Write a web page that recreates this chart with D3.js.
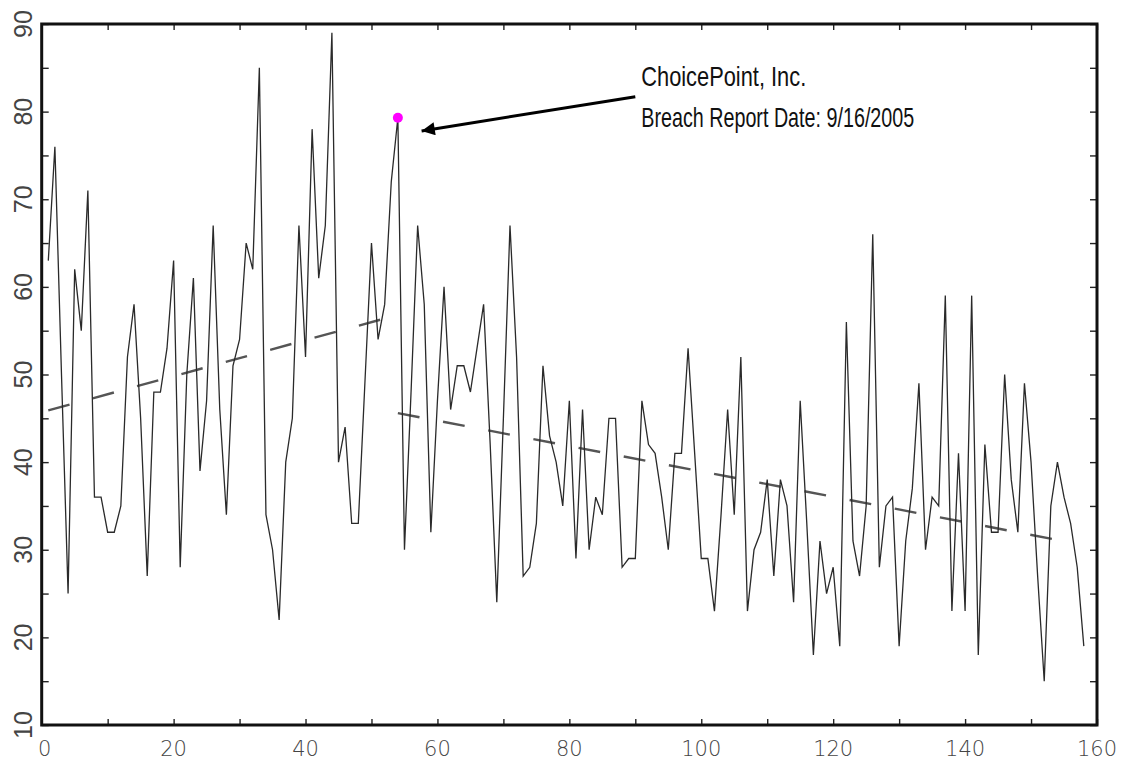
<!DOCTYPE html>
<html>
<head>
<meta charset="utf-8">
<script src="https://cdn.jsdelivr.net/npm/d3@7"></script>
<style>
  body { margin: 0; background: #fff; }
  svg { display: block; }
</style>
</head>
<body>
<script>
// values, one per day (1..158)
var days = d3.range(1, 159);
var scores = [
  63, 76, 50, 25, 62, 55, 71, 36, 36, 32,
  32, 35, 52, 58, 45, 27, 48, 48, 53, 63,
  28, 50, 61, 39, 47, 67, 46, 34, 51, 54,
  65, 62, 85, 34, 30, 22, 40, 45, 67, 52,
  78, 61, 67, 89, 40, 44, 33, 33, 49, 65,
  54, 58, 72, 79.3, 30, 48, 67, 58, 32, 47,
  60, 46, 51, 51, 48, 53, 58, 42, 24, 45,
  67, 52, 27, 28, 33, 51, 43, 40, 35, 47,
  29, 46, 30, 36, 34, 45, 45, 28, 29, 29,
  47, 42, 41, 36, 30, 41, 41, 53, 41, 29,
  29, 23, 34, 46, 34, 52, 23, 30, 32, 38,
  27, 38, 35, 24, 47, 33, 18, 31, 25, 28,
  19, 56, 31, 27, 35, 66, 28, 35, 36, 19,
  31, 37, 49, 30, 36, 35, 59, 23, 41, 23,
  59, 18, 42, 32, 32, 50, 38, 32, 49, 40,
  27, 15, 35, 40, 36, 33, 28, 19
];

// dashed trend lines before and after the breach
var trendBefore = [[1, 45.9], [54, 56.8]];
var trendAfter = [[54, 45.6], [155.5, 30.9]];

var breachDay = 54;
var breachScore = 79.3;
var noteLines = ["ChoicePoint, Inc.", "Breach Report Date: 9/16/2005"];

var xTickLabels = [0, 20, 40, 60, 80, 100, 120, 140, 160];
var yTickLabels = [10, 20, 30, 40, 50, 60, 70, 80, 90];

var w = 1122, h = 761;
var margin = {top: 24, right: 25, bottom: 36, left: 41.7};

var svg = d3.select("body").append("svg")
    .attr("width", w)
    .attr("height", h);

var xScale = d3.scaleLinear()
    .domain([0, 160])
    .range([margin.left, w - margin.right]);

var yScale = d3.scaleLinear()
    .domain([10, 90])
    .range([h - margin.bottom, margin.top]);

// inward ticks on all four sides
function cleanAxis(g) {
  g.select(".domain").remove();
  g.selectAll(".tick line").attr("stroke", "#222").attr("stroke-width", 1.4);
  g.selectAll(".tick text").remove();
}

svg.append("g")
    .attr("transform", "translate(0," + yScale(10) + ")")
    .call(d3.axisBottom(xScale).tickValues(d3.range(0, 161, 10)).tickSize(-6))
    .call(cleanAxis);

svg.append("g")
    .attr("transform", "translate(0," + yScale(90) + ")")
    .call(d3.axisTop(xScale).tickValues(d3.range(0, 161, 10)).tickSize(-6))
    .call(cleanAxis);

svg.append("g")
    .attr("transform", "translate(" + xScale(0) + ",0)")
    .call(d3.axisLeft(yScale).tickValues(d3.range(10, 91, 5)).tickSize(-7))
    .call(cleanAxis);

svg.append("g")
    .attr("transform", "translate(" + xScale(160) + ",0)")
    .call(d3.axisRight(yScale).tickValues(d3.range(10, 91, 5)).tickSize(-7))
    .call(cleanAxis);

// frame
svg.append("rect")
    .attr("x", xScale(0))
    .attr("y", yScale(90))
    .attr("width", xScale(160) - xScale(0))
    .attr("height", yScale(10) - yScale(90))
    .attr("fill", "none")
    .attr("stroke", "#111")
    .attr("stroke-width", 3);

// tick labels
svg.append("g").selectAll("text")
    .data(xTickLabels)
    .enter().append("text")
    .attr("x", function(d) { return xScale(d) + (d === 0 ? 3 : 0); })
    .attr("y", 756)
    .attr("text-anchor", "middle")
    .attr("font-family", "DejaVu Sans")
    .attr("font-weight", 200)
    .attr("font-size", 21)
    .attr("fill", "#444")
    .text(function(d) { return d; });

svg.append("g").selectAll("text")
    .data(yTickLabels)
    .enter().append("text")
    .attr("transform", function(d) {
      return "translate(32," + yScale(d) + ") rotate(-90)"; })
    .attr("text-anchor", "middle")
    .attr("font-family", "Liberation Sans")
    .attr("font-size", 25)
    .attr("fill", "#444")
    .text(function(d) { return d; });

// trend lines
var trendLine = d3.line()
    .x(function(d) { return xScale(d[0]); })
    .y(function(d) { return yScale(d[1]); });

[trendBefore, trendAfter].forEach(function(t) {
  svg.append("path")
      .attr("d", trendLine(t))
      .attr("fill", "none")
      .attr("stroke", "#555")
      .attr("stroke-width", 2.4)
      .attr("stroke-dasharray", "22,24");
});

// the series
var line = d3.line()
    .x(function(d, i) { return xScale(days[i]); })
    .y(function(d) { return yScale(d); });

svg.append("path")
    .attr("d", line(scores))
    .attr("fill", "none")
    .attr("stroke", "#2a2a2a")
    .attr("stroke-width", 1.3)
    .attr("stroke-linejoin", "miter");

// breach marker
svg.append("circle")
    .attr("cx", xScale(breachDay))
    .attr("cy", yScale(breachScore))
    .attr("r", 5)
    .attr("fill", "#ff00ff");

// annotation arrow
svg.append("defs").append("marker")
    .attr("id", "head")
    .attr("viewBox", "0 0 10 10")
    .attr("refX", 10)
    .attr("refY", 5)
    .attr("markerWidth", 5)
    .attr("markerHeight", 4.4)
    .attr("markerUnits", "strokeWidth")
    .attr("orient", "auto")
  .append("path")
    .attr("d", "M0,0 L10,5 L0,10 z")
    .attr("fill", "#000");

svg.append("line")
    .attr("x1", xScale(90))
    .attr("y1", yScale(81.7))
    .attr("x2", xScale(57.6))
    .attr("y2", yScale(77.8))
    .attr("stroke", "#000")
    .attr("stroke-width", 3)
    .attr("marker-end", "url(#head)");

var noteWidths = [165, 273];
svg.append("g").selectAll("text")
    .data(noteLines)
    .enter().append("text")
    .attr("x", xScale(90.9))
    .attr("y", function(d, i) { return 86 + i * 41; })
    .attr("font-family", "Liberation Sans")
    .attr("font-size", 28)
    .attr("fill", "#111")
    .attr("textLength", function(d, i) { return noteWidths[i]; })
    .attr("lengthAdjust", "spacingAndGlyphs")
    .text(function(d) { return d; });
</script>
</body>
</html>
